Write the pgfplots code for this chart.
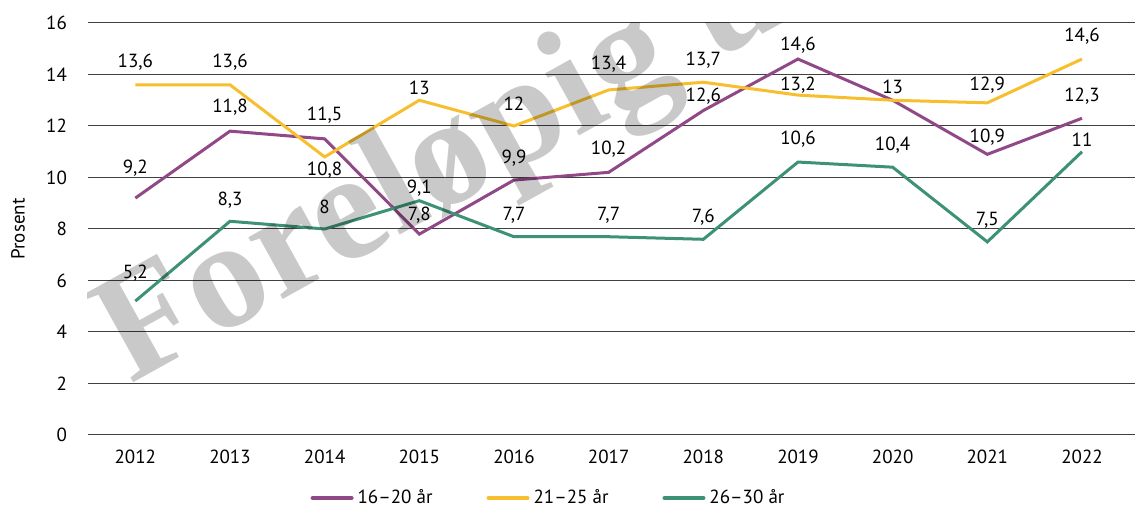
\documentclass[border=0pt]{standalone}
\usepackage{pgfplots}
\usepackage{pgfplotstable}
\pgfplotsset{compat=1.18}
\usepackage{fontspec}
\setmainfont{PT Sans}
\newfontfamily\wmfont{Liberation Serif}
\definecolor{cpurple}{RGB}{145,72,135}
\definecolor{cyellow}{RGB}{247,191,46}
\definecolor{cgreen}{RGB}{61,146,117}

\pgfplotstableread{
x y lab dy
2012 9.2 9,2 30
2013 11.8 11,8 24
2014 11.5 11,5 24
2015 7.8 7,8 18.5
2016 9.9 9,9 22.3
2017 10.2 10,2 23
2018 12.6 12,6 14
2019 14.6 14,6 13.4
2020 13 13 13.6
2021 10.9 10,9 17.6
2022 12.3 12,3 22.6
}\tpurple

\pgfplotstableread{
x y lab dy
2012 13.6 13,6 23
2013 13.6 13,6 23
2014 10.8 10,8 -13
2015 13 13 12
2016 12 12 22.7
2017 13.4 13,4 25.7
2018 13.7 13,7 22
2019 13.2 13,2 10
2020 13 {} 13.6
2021 12.9 12,9 17.8
2022 14.6 14,6 22.4
}\tyellow

\pgfplotstableread{
x y lab dy
2012 5.2 5,2 27.8
2013 8.3 8,3 21.3
2014 8 8 22.3
2015 9.1 9,1 12.4
2016 7.7 7,7 21.7
2017 7.7 7,7 21.7
2018 7.6 7,6 22.6
2019 10.6 10,6 22.6
2020 10.4 10,4 22.2
2021 7.5 7,5 22
2022 11 11 12.4
}\tgreen

\begin{document}
\begin{tikzpicture}
\begin{axis}[
  scale only axis,
  width=523.5pt, height=206pt,
  xmin=2011.5, xmax=2022.56,
  ymin=0, ymax=16,
  ytick={0,2,...,16},
  xtick={2012,2013,...,2022},
  axis line style={draw=none},
  major tick length=0pt,
  ymajorgrids,
  grid style={black!75, line width=0.5pt},
  font=\fontsize{9.5}{11}\selectfont,
  /pgf/number format/assume math mode=true,
  /pgf/number format/1000 sep={},
  yticklabel style={anchor=east, xshift=-7pt},
  xticklabel style={anchor=north, yshift=-4pt},
  ylabel={Prosent},
  ylabel style={at={(axis description cs:-0.0669,0.5)}, anchor=center, rotate=0},
  legend columns=3,
  legend style={at={(axis description cs:0.4408,-0.153)}, anchor=center,
    draw=none, fill=none, inner sep=0pt,
    font=\fontsize{9.5}{11}\selectfont,
    /tikz/every even column/.append style={column sep=25pt}},
  legend image code/.code={\draw[#1, line width=2pt, line cap=round] (0pt,0pt) -- (19.5pt,0pt);},
  every axis plot/.append style={line width=1.5pt, mark=none},
  nodes near coords,
  point meta=explicit symbolic,
  visualization depends on={\thisrow{dy} \as \dy},
  every node near coord/.append style={anchor=center, yshift={\dy*0.5pt}, text=black, font=\fontsize{9.5}{11}\selectfont, inner sep=0pt},
]
\addplot[cpurple] table[x=x, y=y, meta=lab] {\tpurple};
\addlegendentry{16–20 år}
\addplot[cyellow] table[x=x, y=y, meta=lab] {\tyellow};
\addlegendentry{21–25 år}
\addplot[cgreen] table[x=x, y=y, meta=lab] {\tgreen};
\addlegendentry{26–30 år}
\node[rotate=29, anchor=base west, inner sep=0pt, text=black, text opacity=0.21,
  font=\wmfont\bfseries\fontsize{77}{77}\selectfont]
  at (rel axis cs:0.0401,0.1214) {Foreløpig utgave};
\coordinate (bl) at (rel axis cs:0,0);
\coordinate (tr) at (rel axis cs:1,1);
\end{axis}
\pgfresetboundingbox
\path[use as bounding box] ([xshift=-44pt, yshift=-36pt]bl) rectangle ([yshift=11.5pt]tr);
\end{tikzpicture}
\end{document}
